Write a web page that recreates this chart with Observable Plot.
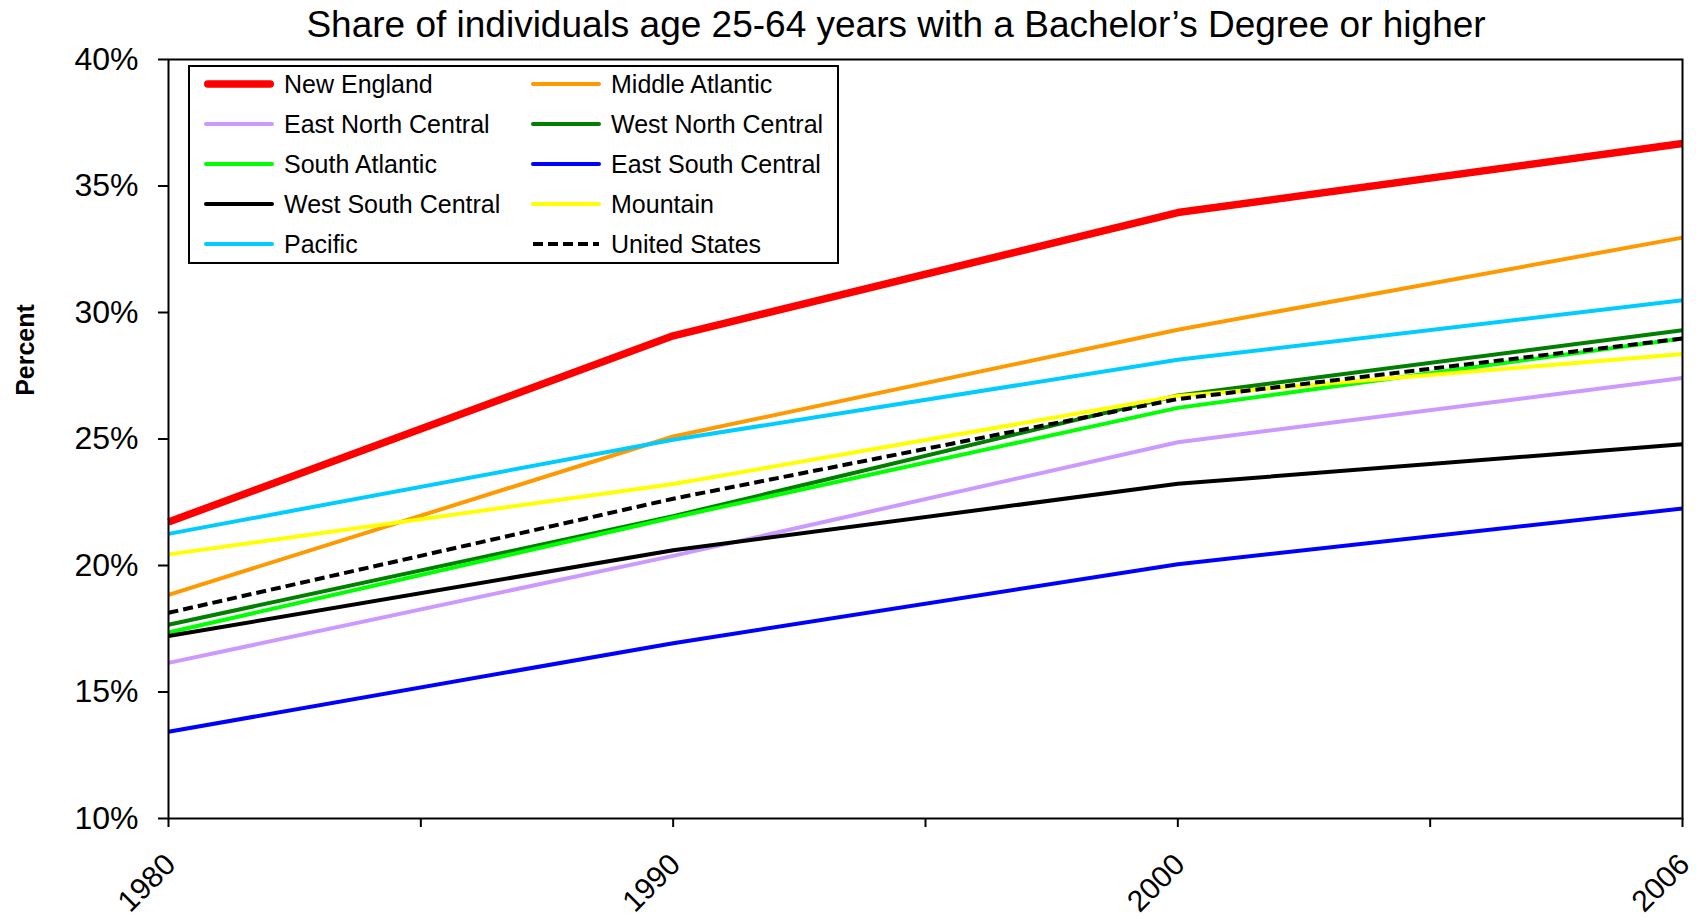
<!DOCTYPE html>
<html>
<head>
<meta charset="utf-8">
<script src="https://cdn.jsdelivr.net/npm/d3@7"></script>
<script src="https://cdn.jsdelivr.net/npm/@observablehq/plot@0.6"></script>
<style>
  html, body { margin: 0; padding: 0; background: #fff; overflow: hidden; }
  body { width: 1696px; height: 918px; position: relative; font-family: "Liberation Sans", Arial, sans-serif; color: #000; }
  #title { width: 1696px; height: 50px; line-height: 50px; font-size: 37px; text-align: center; padding-left: 96px; box-sizing: border-box; white-space: nowrap; }
  #ylabel { position: absolute; left: -75px; top: 335px; width: 200px; height: 30px; line-height: 30px; text-align: center; font-weight: bold; font-size: 25px; transform: rotate(-90deg); }
  #legend { position: absolute; left: 188px; top: 65px; width: 651px; height: 199px; border: 2px solid #000; box-sizing: border-box; background: #fff; }
  #legend .grid { position: absolute; left: 0; top: -3px; display: grid; grid-template-columns: 327px 320px; grid-auto-rows: 40px; }
  #legend .item { display: flex; align-items: center; font-size: 25px; white-space: nowrap; }
  #legend svg { margin-left: 13px; margin-right: 9px; flex: none; }
  #chart { position: absolute; left: 0; top: 50px; }
</style>
</head>
<body>
<div id="title">Share of individuals age 25-64 years with a Bachelor’s Degree or higher</div>
<div id="chart"></div>
<div id="ylabel">Percent</div>
<div id="legend"><div class="grid"></div></div>
<script>
// ---- data ----
const years = ["1980", "1990", "2000", "2006"];
const yTicks = [10, 15, 20, 25, 30, 35, 40];

const newEngland       = [21.72, 29.08, 33.95, 36.68];
const middleAtlantic   = [18.84, 25.10, 29.32, 32.96];
const eastNorthCentral = [16.15, 20.38, 24.87, 27.41];
const westNorthCentral = [17.66, 21.95, 26.72, 29.30];
const southAtlantic    = [17.35, 21.90, 26.23, 28.97];
const eastSouthCentral = [13.43, 16.93, 20.05, 22.25];
const westSouthCentral = [17.21, 20.60, 23.23, 24.79];
const mountain         = [20.44, 23.22, 26.70, 28.36];
const pacific          = [21.25, 24.97, 28.13, 30.48];
const unitedStates     = [18.13, 22.64, 26.58, 28.97];

const seriesNames = ["New England", "Middle Atlantic", "East North Central", "West North Central",
  "South Atlantic", "East South Central", "West South Central", "Mountain", "Pacific", "United States"];
const seriesValues = [newEngland, middleAtlantic, eastNorthCentral, westNorthCentral,
  southAtlantic, eastSouthCentral, westSouthCentral, mountain, pacific, unitedStates];

// ---- styles ----
const colors = ["#ff0000", "#ff9900", "#cc99ff", "#008000", "#00ff00", "#0000ff", "#000000", "#ffff00", "#00ccff", "#000000"];
const widths = [7.5, 4, 4, 4, 4, 4, 4, 4, 4, 4];
const dashes = [null, null, null, null, null, null, null, null, null, "10,5"];

const halfTicks = d3.range(0, years.length - 1 + 0.001, 0.5);

const plot = Plot.plot({
  width: 1696,
  height: 868,
  marginLeft: 168,
  marginRight: 14,
  marginTop: 9,
  marginBottom: 100,
  x: { type: "linear", domain: [0, years.length - 1] },
  y: { domain: [yTicks[0], yTicks[yTicks.length - 1]] },
  style: { fontFamily: "'Liberation Sans', Arial, sans-serif", fontSize: "30px", color: "#000", background: "#fff", overflow: "visible" },
  marks: [
    ...seriesNames.map((n, s) => Plot.line(seriesValues[s], {
      x: (d, i) => i,
      y: d => d,
      stroke: colors[s],
      strokeWidth: widths[s],
      strokeDasharray: dashes[s] || undefined,
      strokeLinejoin: "round",
      strokeLinecap: "butt"
    })),
    Plot.frame({ stroke: "#000", strokeWidth: 2 }),
    Plot.axisY({ ticks: yTicks, tickSize: 10, tickPadding: 20, tickFormat: d => d + "%", fontSize: 32, strokeWidth: 2, label: null }),
    Plot.axisX({ ticks: halfTicks, tickSize: 9, tickFormat: () => "", strokeWidth: 2, label: null }),
    Plot.text(years, {
      x: (d, i) => i,
      frameAnchor: "bottom",
      text: d => d,
      rotate: -45,
      textAnchor: "end",
      lineAnchor: "middle",
      dx: 2,
      dy: 41,
      fontSize: 30
    })
  ]
});
document.getElementById("chart").appendChild(plot);

// ---- legend ----
const grid = document.querySelector("#legend .grid");
seriesNames.forEach((n, s) => {
  const item = document.createElement("div");
  item.className = "item";
  const w = widths[s];
  item.innerHTML =
    `<svg width="72" height="12"><line x1="${w / 2 + 1}" x2="${72 - w / 2 - 1}" y1="6" y2="6" stroke="${colors[s]}" stroke-width="${w}" ` +
    (dashes[s] ? `stroke-dasharray="${dashes[s]}" stroke-linecap="butt"` : `stroke-linecap="round"`) +
    `/></svg><span>${n}</span>`;
  grid.appendChild(item);
});
</script>
</body>
</html>
